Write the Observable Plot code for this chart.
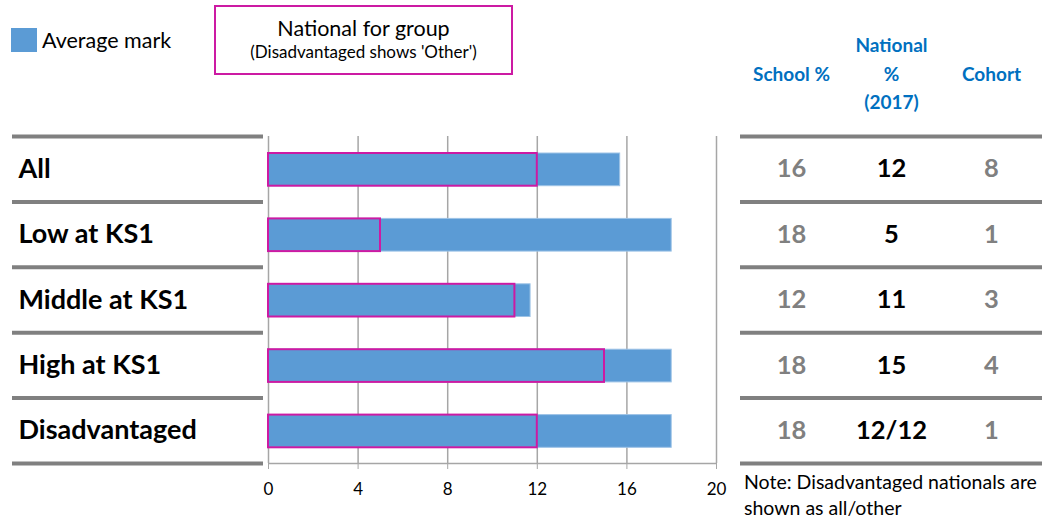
<!DOCTYPE html>
<html>
<head>
<meta charset="utf-8">
<script src="https://cdn.jsdelivr.net/npm/d3@7"></script>
<script src="https://cdn.jsdelivr.net/npm/@observablehq/plot@0.6"></script>
<style>
  html, body { margin: 0; padding: 0; background: #fff; }
  #wrap { position: relative; width: 1042px; height: 520px; font-family: Lato, "Open Sans", sans-serif; overflow: hidden; }
  #wrap svg { position: absolute; left: 0; top: 0; background: transparent; }
  .leg-swatch { position: absolute; left: 11px; top: 28px; width: 26px; height: 24px; background: #5b9bd5; }
  .leg-text { position: absolute; left: 42px; top: 27px; font-size: 21.5px; color: #000; line-height: 26px; white-space: nowrap; }
  .leg-box { position: absolute; left: 214px; top: 5px; width: 295px; height: 66px; border: 2px solid #cc1aa3; text-align: center; color: #000; white-space: nowrap; }
  .leg-box .l1 { font-size: 21.5px; margin-top: 8px; line-height: 26px; }
  .leg-box .l2 { font-size: 17px; line-height: 22px; }
  .note { position: absolute; left: 744px; top: 469px; font-size: 19.5px; line-height: 26px; color: #000; white-space: nowrap; }
</style>
</head>
<body>
<div id="wrap">
  <div class="leg-swatch"></div>
  <div class="leg-text">Average mark</div>
  <div class="leg-box"><div class="l1">National for group</div><div class="l2">(Disadvantaged shows 'Other')</div></div>
  <div class="note">Note: Disadvantaged nationals are<br>shown as all/other</div>
</div>
<script>
// ---- data ----
const groups = ["All", "Low at KS1", "Middle at KS1", "High at KS1", "Disadvantaged"];
const averageMark = [15.7, 18, 11.7, 18, 18];
const nationalForGroup = [12, 5, 11, 15, 12];
const schoolPct = ["16", "18", "12", "18", "18"];
const nationalPct = ["12", "5", "11", "15", "12/12"];
const cohort = ["8", "1", "3", "4", "1"];
const columnKeys = ["school", "national", "cohort"];
const columnHeaders = ["School %", "National\n%\n(2017)", "Cohort"];
const xTicks = [0, 4, 8, 12, 16, 20];

const W = 1042, H = 520;
const mTop = 136, mBottom = 57;
const font = "Lato, 'Open Sans', sans-serif";
const rows = groups.map((g, i) => ({
  group: g, i, avg: averageMark[i], nat: nationalForGroup[i],
  school: schoolPct[i], national: nationalPct[i], cohort: cohort[i]
}));
const boundaries = d3.range(groups.length + 1);
const yOpts = {domain: [0, groups.length], range: [mTop, H - mBottom]};
const wrap = document.getElementById("wrap");

// ---- row labels + left separators ----
const labels = Plot.plot({
  width: W, height: H, marginLeft: 12, marginRight: W - 263, marginTop: mTop, marginBottom: mBottom,
  style: {fontFamily: font, background: "transparent", overflow: "visible"},
  y: {...yOpts, axis: null},
  x: {axis: null},
  marks: [
    Plot.ruleY(boundaries, {y: d => d, stroke: "#808080", strokeWidth: 4}),
    Plot.text(rows, {y: d => d.i + 0.5, text: "group", frameAnchor: "left", textAnchor: "start",
      dx: 6, fontSize: 27, fontWeight: "bold", fill: "#000"})
  ]
});
wrap.appendChild(labels);

// ---- bars ----
const bars = Plot.plot({
  width: W, height: H, marginLeft: 268, marginRight: W - 716, marginTop: mTop, marginBottom: mBottom,
  style: {fontFamily: font, fontSize: "17px", background: "transparent", overflow: "visible", color: "#000"},
  x: {domain: [0, 20], ticks: xTicks},
  y: {...yOpts, axis: null},
  marks: [
    Plot.gridX(xTicks, {stroke: "#a6a6a6", strokeOpacity: 1, strokeWidth: 1.5}),
    Plot.axisX(xTicks, {tickSize: 6, tickPadding: 13, stroke: "#a6a6a6", fontSize: 17, fill: "#000", label: null}),
    Plot.ruleY([groups.length], {stroke: "#a6a6a6", strokeWidth: 1.5}),
    Plot.rectX(rows, {x1: 0, x2: "avg", y1: d => d.i + 0.26, y2: d => d.i + 0.76,
      fill: "#5b9bd5", stroke: "#9dc3e6", strokeWidth: 1}),
    Plot.rectX(rows, {x1: 0, x2: "nat", y1: d => d.i + 0.26, y2: d => d.i + 0.76,
      fill: "none", stroke: "#cc1aa3", strokeWidth: 2})
  ]
});
wrap.appendChild(bars);

// ---- table ----
const cells = rows.flatMap(r => columnKeys.map(k => ({i: r.i, col: k, value: r[k]})));
const table = Plot.plot({
  width: W, height: H, marginLeft: 740, marginRight: 0, marginTop: mTop, marginBottom: mBottom,
  style: {fontFamily: font, background: "transparent", overflow: "visible"},
  x: {type: "band", domain: columnKeys, padding: 0, axis: null},
  y: {...yOpts, axis: null},
  marks: [
    Plot.ruleY(boundaries, {y: d => d, stroke: "#808080", strokeWidth: 4}),
    Plot.text(columnKeys.map((k, j) => ({col: k, label: columnHeaders[j]})), {
      x: "col", text: "label", frameAnchor: "top", dy: -65, lineAnchor: "middle", lineHeight: 1.5,
      fontSize: 19, fontWeight: "bold", fill: "#0070c0"}),
    Plot.text(cells, {x: "col", y: d => d.i + 0.5, text: "value", fontSize: 25.5, fontWeight: "bold",
      fill: d => d.col === "national" ? "#000" : "#808080"})
  ]
});
wrap.appendChild(table);
</script>
</body>
</html>
